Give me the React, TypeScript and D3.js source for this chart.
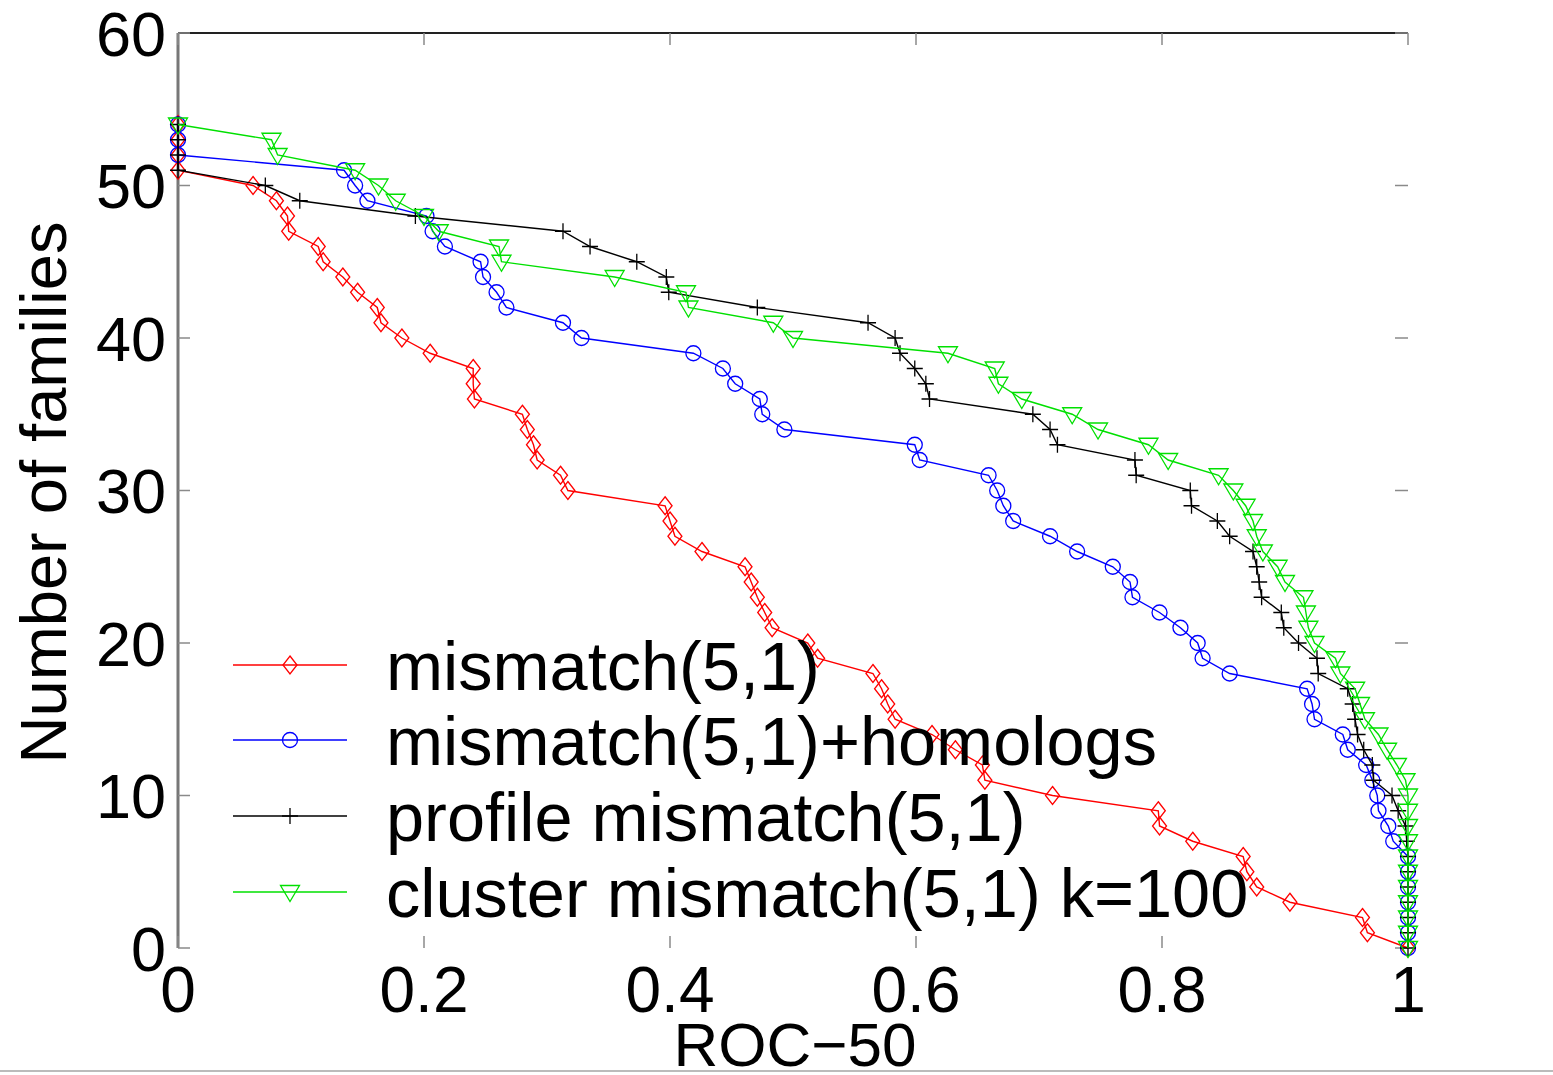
import React from 'react';
import * as d3 from 'd3';

// Number of families (y) for each point, shared by all series
const familyCounts = [54,53,52,51,50,49,48,47,46,45,44,43,42,41,40,39,38,37,36,35,34,33,32,31,30,29,28,27,26,25,24,23,22,21,20,19,18,17,16,15,14,13,12,11,10,9,8,7,6,5,4,3,2,1,0];

const mismatchRoc = [0,0,0,0,0.061,0.080,0.089,0.090,0.114,0.118,0.134,0.146,0.162,0.165,0.182,0.205,0.240,0.240,0.241,0.280,0.284,0.289,0.292,0.311,0.317,0.396,0.400,0.404,0.426,0.461,0.466,0.471,0.477,0.483,0.512,0.520,0.565,0.572,0.577,0.583,0.613,0.632,0.654,0.656,0.711,0.797,0.798,0.825,0.866,0.869,0.877,0.904,0.963,0.967,1.0];
const homologsRoc = [0,0,0,0.135,0.144,0.154,0.202,0.207,0.217,0.246,0.248,0.259,0.267,0.313,0.328,0.419,0.443,0.453,0.473,0.475,0.493,0.599,0.603,0.659,0.666,0.671,0.679,0.709,0.731,0.760,0.774,0.776,0.798,0.815,0.829,0.833,0.855,0.918,0.922,0.924,0.947,0.951,0.966,0.971,0.975,0.976,0.984,0.988,1,1,1,1,1,1,1];
const profileRoc = [0,0,0,0,0.071,0.099,0.193,0.313,0.335,0.373,0.397,0.399,0.471,0.561,0.583,0.587,0.599,0.608,0.611,0.695,0.709,0.715,0.778,0.779,0.823,0.824,0.845,0.855,0.874,0.877,0.879,0.881,0.897,0.899,0.911,0.926,0.927,0.951,0.955,0.957,0.959,0.964,0.971,0.972,0.987,0.992,0.998,0.999,1,1,1,1,1,1,1];
const clusterRoc = [0,0.076,0.081,0.144,0.163,0.177,0.200,0.212,0.261,0.263,0.355,0.413,0.415,0.484,0.500,0.626,0.664,0.667,0.686,0.727,0.748,0.789,0.805,0.846,0.858,0.868,0.874,0.877,0.882,0.894,0.900,0.915,0.917,0.919,0.924,0.941,0.945,0.957,0.961,0.965,0.976,0.983,0.991,0.998,1,1,1,1,1,1,1,1,1,1,1];

const seriesNames = ['mismatch(5,1)', 'mismatch(5,1)+homologs', 'profile mismatch(5,1)', 'cluster mismatch(5,1) k=100'];
const seriesColors = ['#ff0000', '#0000ff', '#000000', '#00e000'];
const seriesMarkers = ['diamond', 'circle', 'plus', 'triangle'];
const seriesValues = [mismatchRoc, homologsRoc, profileRoc, clusterRoc];

const xTicks = [0, 0.2, 0.4, 0.6, 0.8, 1];
const xTickLabels = ['0', '0.2', '0.4', '0.6', '0.8', '1'];
const yTicks = [0, 10, 20, 30, 40, 50, 60];

const W = 1553, H = 1075;
const M = { left: 178, right: 1408, top: 33, bottom: 948 };

function Marker({ type, x, y, color }: { type: string; x: number; y: number; color: string }) {
  const common = { fill: 'none', stroke: color, strokeWidth: 1.3 };
  if (type === 'diamond') {
    return <path d={`M${x},${y - 9}L${x + 7},${y}L${x},${y + 9}L${x - 7},${y}Z`} {...common} />;
  }
  if (type === 'circle') {
    return <circle cx={x} cy={y} r={7.5} {...common} />;
  }
  if (type === 'plus') {
    return <path d={`M${x - 8},${y}L${x + 8},${y}M${x},${y - 8}L${x},${y + 8}`} {...common} />;
  }
  return <path d={`M${x - 9.5},${y - 6.5}L${x + 9.5},${y - 6.5}L${x},${y + 9.5}Z`} {...common} />;
}

export default function App() {
  const x = d3.scaleLinear().domain([0, 1]).range([M.left, M.right]);
  const y = d3.scaleLinear().domain([0, 60]).range([M.bottom, M.top]);
  const line = d3.line<[number, number]>().x(d => x(d[0])).y(d => y(d[1]));
  const font = '"Liberation Sans", Arial, Helvetica, sans-serif';
  const tickColor = '#8a8a8a';

  const legendY = [665, 740, 816, 892];

  return (
    <svg width={W} height={H} style={{ position: 'absolute', left: 0, top: 0, background: '#fff' }} fontFamily={font}>
      <rect x={0} y={0} width={W} height={H} fill="#fff" />
      {/* top spine */}
      <line x1={M.left} x2={M.right} y1={M.top} y2={M.top} stroke="#222" strokeWidth={2} />
      {/* left spine */}
      <line x1={M.left} x2={M.left} y1={M.top} y2={M.bottom} stroke="#777" strokeWidth={3} />
      {/* ticks */}
      {yTicks.map(t => (
        <g key={'yt' + t}>
          <line x1={M.left} x2={M.left + 12} y1={y(t)} y2={y(t)} stroke={tickColor} strokeWidth={1.5} />
          <line x1={M.right - 13} x2={M.right} y1={y(t)} y2={y(t)} stroke={tickColor} strokeWidth={1.5} />
          <text x={166} y={y(t)} dy="0.36em" textAnchor="end" fontSize={63} fill="#000">{t}</text>
        </g>
      ))}
      {xTicks.map((t, i) => (
        <g key={'xt' + t}>
          <line x1={x(t)} x2={x(t)} y1={M.bottom} y2={M.bottom - 12} stroke={tickColor} strokeWidth={1.5} />
          <line x1={x(t)} x2={x(t)} y1={M.top} y2={M.top + 12} stroke={tickColor} strokeWidth={1.5} />
          <text x={x(t)} y={1012} textAnchor="middle" fontSize={64} fill="#000">{xTickLabels[i]}</text>
        </g>
      ))}
      {/* axis labels */}
      <text x={795} y={1066} textAnchor="middle" fontSize={62} fill="#000">ROC−50</text>
      <text transform={`translate(66,${(M.top + M.bottom) / 2 + 2}) rotate(-90)`} textAnchor="middle" fontSize={65} fill="#000">Number of families</text>

      {/* series */}
      {seriesValues.map((vals, si) => {
        const pts: [number, number][] = vals.map((v, i) => [v, familyCounts[i]]);
        return (
          <g key={'s' + si}>
            <path d={line(pts) || ''} fill="none" stroke={seriesColors[si]} strokeWidth={1.4} />
            {pts.map((p, i) => (
              <Marker key={i} type={seriesMarkers[si]} x={x(p[0])} y={y(p[1])} color={seriesColors[si]} />
            ))}
          </g>
        );
      })}

      {/* legend */}
      {seriesNames.map((name, i) => (
        <g key={'lg' + i}>
          <line x1={233} x2={347} y1={legendY[i]} y2={legendY[i]} stroke={seriesColors[i]} strokeWidth={1.4} />
          <Marker type={seriesMarkers[i]} x={290} y={legendY[i]} color={seriesColors[i]} />
          <text x={386} y={legendY[i]} dy="0.36em" fontSize={68.5} fill="#000">{name}</text>
        </g>
      ))}
      <line x1={0} x2={W} y1={1071} y2={1071} stroke="#bbb" strokeWidth={2} />
    </svg>
  );
}
